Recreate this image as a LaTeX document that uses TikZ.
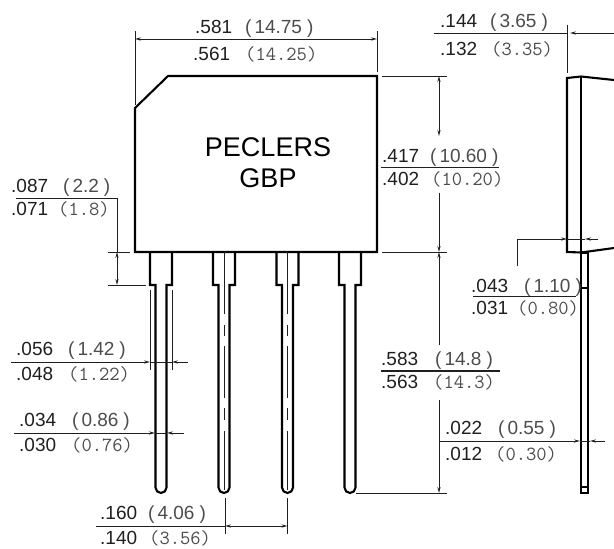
\documentclass[tikz,border=0pt]{standalone}
\usepackage{fontspec}
\setmainfont{Liberation Sans}
\usetikzlibrary{arrows,arrows.meta}
\usetikzlibrary{positioning}
\definecolor{inkG}{gray}{0.12}
\definecolor{mmG}{gray}{0.30}
\tikzset{
    bodyL/.style={line width=2.1pt, black, line join=miter},
    thinL/.style={line width=0.9pt, inkG},
    headR/.style={thinL, -{Stealth[length=6pt,width=3.2pt]}},
    headB/.style={thinL, {Stealth[length=6pt,width=3.2pt]}-{Stealth[length=6pt,width=3.2pt]}},
    valT/.style={anchor=base west, inner sep=0pt, text=inkG, font=\fontsize{19}{20}\selectfont},
    mmA/.style={anchor=base west, inner sep=0pt, text=mmG, font=\fontsize{19}{20}\selectfont},
    mmB/.style={anchor=base west, inner sep=0pt, text=mmG, font=\fontsize{20}{20}\ttfamily},
    nameT/.style={inner sep=0pt, black, font=\fontsize{27}{31}\selectfont, align=center}
}
\begin{document}
\begin{tikzpicture}[x=1pt,y=-1pt]
    \useasboundingbox (0,0) rectangle (614,549);
    \coordinate (b1) at (135, 108);
    \coordinate (b2) at (168, 76);
    \coordinate (b3) at (377, 76);
    \coordinate (b4) at (377, 252);
    \coordinate (b5) at (135, 252);
    % front view
    \draw[bodyL] (b1) -- (b2) -- (b3) -- (b4) -- (b5) -- cycle;
    \foreach \cx in {161, 224, 287.5, 350} {
        \draw[bodyL] ({\cx-11},252) -- ({\cx-11},285) -- ({\cx-5.5},285)
            [rounded corners=5.5pt] -- ({\cx-5.5},493) -- ({\cx+5.5},493) [sharp corners]
            -- ({\cx+5.5},285) -- ({\cx+11},285) -- ({\cx+11},252);
    }
    \foreach \cx in {224, 287.5} {
        \foreach \ya/\yb in {252/314, 325/336, 346/398, 408/420, 431/490} {
            \draw[thinL] (\cx,\ya) -- (\cx,\yb);
        }
    }
    \node[nameT] (title) at (268,162.5) {PECLERS\\GBP};
    % side view
    \coordinate (s1) at (567, 78);
    \coordinate (s2) at (581, 76.5);
    \coordinate (s3) at (614, 80);
    \coordinate (s4) at (614, 248);
    \coordinate (s5) at (581, 252.5);
    \coordinate (s6) at (567, 252);
    \draw[bodyL] (s3) -- (s2) -- (s1) -- (s6) -- (s5) -- (s4);
    \draw[bodyL] (s2) -- (581,493) -- (588,493) -- (588,252.5) -- (s5);
    \draw[bodyL] (581,288) -- (588,288);
    \draw[line width=1.4pt] (581,487) -- (588,487);
    % extension lines
    \draw[thinL] (135,31) -- (135,105);
    \draw[thinL] (377,31) -- (377,72);
    \draw[thinL] (382,76) -- (447,76);
    \draw[thinL] (382,252) -- (447,252);
    \draw[thinL] (356,493) -- (447,493);
    \draw[thinL] (567,25) -- (567,73);
    \draw[thinL] (108,252) -- (130,252);
    \draw[thinL] (108,285) -- (146,285);
    \draw[thinL] (150,290) -- (150,370);
    \draw[thinL] (172,290) -- (172,370);
    \draw[thinL] (225,498) -- (225,534);
    \draw[thinL] (287.5,498) -- (287.5,534);
    % dimension lines
    \draw[headB] (135,39) -- (377,39);
    \draw[headB] (439,136) -- (439,76);
    \draw[headR] (439,193) -- (439,252);
    \draw[headR] (439,345) -- (439,252);
    \draw[headR] (439,400) -- (439,493);
    \draw[thinL] (381,167) -- (499,167);
    \draw[line width=1.6pt, inkG] (381,371) -- (500,371);
    \draw[thinL] (434,33) -- (567,33);
    \draw[headR] (614,33) -- (570,33);
    \draw[headR] (517.5,266) -- (517.5,239) -- (567,239);
    \draw[thinL] (567,239) -- (585,239);
    \draw[headR] (598,239) -- (585,239);
    \draw[thinL] (473,296) -- (576,296);
    \draw[headR] (439,441) -- (580,441);
    \draw[thinL] (580,441) -- (590,441);
    \draw[headR] (605,441) -- (590,441);
    \draw[thinL] (16,198) -- (117,198) -- (117,252);
    \draw[headR] (117,265) -- (117,252);
    \draw[headR] (117,265) -- (117,285);
    \draw[headR] (11,362) -- (150,362);
    \draw[thinL] (150,362) -- (172,362);
    \draw[headR] (188,362) -- (172,362);
    \draw[headR] (14,433) -- (155,433);
    \draw[thinL] (155,433) -- (167,433);
    \draw[headR] (184,433) -- (167,433);
    \draw[thinL] (96,526) -- (225,526);
    \draw[headB] (225,526) -- (287.5,526);
    % labels
    \foreach \nm/\vx/\vy/\val/\mx/\mm in {
        a/195/33/.581/245/14.75, c/440/27/.144/490/3.65, e/382/162/.417/430/10.60,
        g/11/192/.087/63/2.2, j/16/355/.056/68/1.42, l/19/426/.034/72/0.86,
        n/100/519/.160/148/4.06, p/471/292/.043/524/1.10, r/381/365/.583/435/14.8,
        t/445/434/.022/498/0.55} {
        \node[valT] (v\nm) at (\vx,\vy) {\val};
        \node[mmA] (m\nm) at (\mx,\vy) {(\kern3pt\mm\kern5pt)};
    }
    \foreach \nm/\vx/\vy/\val/\mx/\mm in {
        b/193/60/.561/245/14.25, d/440/55/.132/491/3.35, f/382/185/.402/431/10.20,
        h/11/215/.071/58/1.8, k/16/380/.048/68/1.22, m/19/451/.030/71/0.76,
        o/100/544/.140/149/3.56, q/471/314/.031/517/0.80, s/381/388/.563/433/14.3,
        u/445/460/.012/495/0.30} {
        \node[valT] (v\nm) at (\vx,\vy) {\val};
        \node[mmB] (m\nm) at (\mx,\vy) {(\mm)};
    }
\end{tikzpicture}
\end{document}
